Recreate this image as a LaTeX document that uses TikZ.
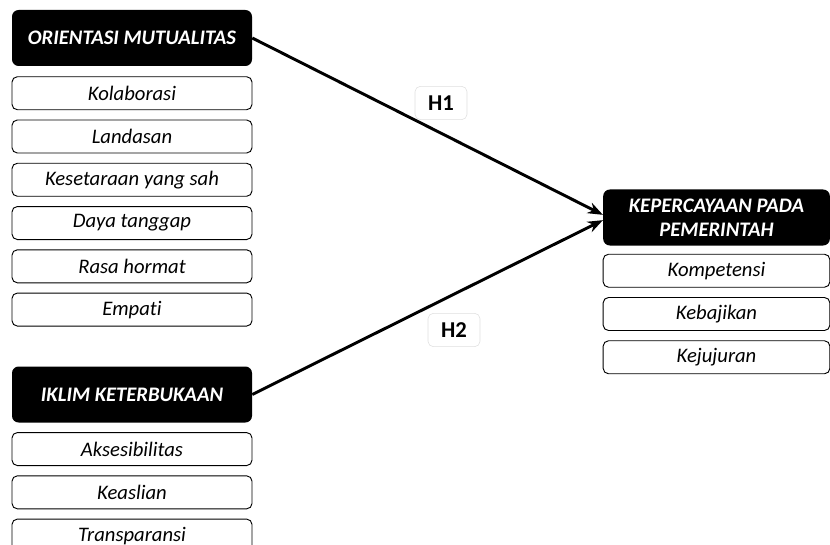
\documentclass[tikz,border=0pt]{standalone}
\usepackage{fontspec}
\setmainfont{Carlito}[Ligatures=NoCommon]
\usepackage{tikz}
\usetikzlibrary{positioning,arrows.meta}

\begin{document}
\begin{tikzpicture}[x=0.75pt, y=-0.75pt, every node/.style={align=center},
  head/.style={fill=black, text=white, rounded corners=5pt, minimum width=180pt, minimum height=42pt, inner sep=2pt, font=\fontsize{15.5}{17}\selectfont\bfseries\itshape},
  item/.style={draw, rounded corners=4pt, minimum width=180pt, minimum height=24.75pt, inner sep=2pt, line width=0.7pt, font=\fontsize{15.5}{17}\selectfont\itshape},
  hyp/.style={draw=gray!25, fill=white, rounded corners=4pt, minimum width=39pt, minimum height=25pt, inner sep=1pt, font=\fontsize{17}{18}\selectfont\bfseries},
  arr/.style={-{Stealth[length=4mm, width=3mm]}, line width=2.2pt}]
\useasboundingbox (0,0) rectangle (830,545);
% left, first block
\node[head] (om) at (132,38) {ORIENTASI MUTUALITAS};
\node[item, below=7.5pt of om] (kol) {Kolaborasi};
\node[item, below=7pt of kol] (lan) {Landasan};
\node[item, below=7pt of lan] (kes) {Kesetaraan yang sah};
\node[item, below=7pt of kes] (day) {Daya tanggap};
\node[item, below=7pt of day] (ras) {Rasa hormat};
\node[item, below=7pt of ras] (emp) {Empati};
% left, second block
\node[head] (ik) at (132,394.5) {IKLIM KETERBUKAAN};
\node[item, below=7pt of ik] (aks) {Aksesibilitas};
\node[item, below=7pt of aks] (kea) {Keaslian};
\node[item, below=7pt of kea] (tra) {Transparansi};
% right block
\node[head, minimum width=170pt] (kp) at (716.5,217.5) {KEPERCAYAAN PADA\\[1pt]PEMERINTAH};
\node[item, minimum width=170pt, below=6pt of kp] (kom) {Kompetensi};
\node[item, minimum width=170pt, below=7pt of kom] (keb) {Kebajikan};
\node[item, minimum width=170pt, below=7pt of keb] (kej) {Kejujuran};
% paths
\draw[arr] (om.east) -- ([yshift=2pt]kp.west);
\draw[arr] (ik.east) -- ([yshift=-2pt]kp.west);
\node[hyp] (h1) at (441,103) {H1};
\node[hyp] (h2) at (454,330) {H2};
\end{tikzpicture}
\end{document}
